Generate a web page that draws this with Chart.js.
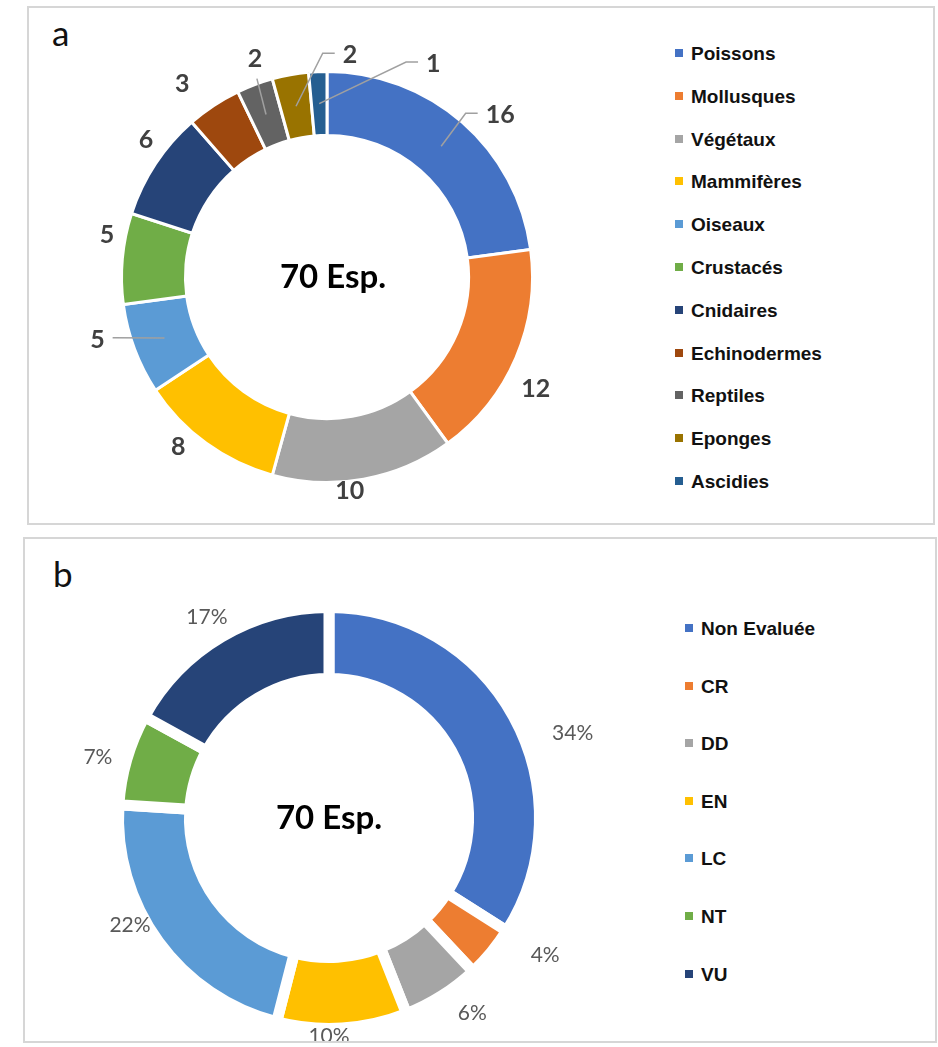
<!DOCTYPE html>
<html>
<head>
<meta charset="utf-8">
<script src="https://cdn.jsdelivr.net/npm/chart.js@4.4.1/dist/chart.umd.min.js"></script>
<style>
  html, body { margin: 0; padding: 0; background: #fff; }
  body { width: 938px; height: 1047px; position: relative; overflow: hidden; }
  .panel { position: absolute; border: 2px solid #d6d6d6; box-sizing: border-box; }
  .tag { position: absolute; font-family: Lato, "Open Sans", sans-serif; font-size: 35px; color: #111; line-height: 1; }
  canvas { position: absolute; }
  .legend { position: absolute; margin: 0; padding: 0; list-style: none;
            font-family: "Liberation Sans", Arial, sans-serif; font-weight: bold; font-size: 19px; color: #111; }
  .legend li { white-space: nowrap; }
  .legend .box { display: inline-block; width: 8px; height: 8px; margin-right: 8px; vertical-align: middle; position: relative; top: -2px; }
</style>
</head>
<body>
<div class="panel" style="left:27px; top:6px; width:908px; height:519px;"></div>
<div class="panel" style="left:23px; top:537px; width:914px; height:506px;"></div>
<div class="tag" style="left:52px; top:15px;">a</div>
<div class="tag" style="left:53px; top:556px;">b</div>

<div style="position:absolute; left:27px; top:6px; width:630px; height:518px;"><canvas id="chartA"></canvas></div>
<div style="position:absolute; left:23px; top:537px; width:630px; height:504px;"><canvas id="chartB"></canvas></div>

<ul class="legend" id="legendA" style="left:675px; top:33px;"></ul>
<ul class="legend" id="legendB" style="left:685px; top:600px;"></ul>

<script>
// Panneau a : nombre d'especes par groupe
const groupes = ['Poissons', 'Mollusques', 'Végétaux', 'Mammifères', 'Oiseaux', 'Crustacés',
                 'Cnidaires', 'Echinodermes', 'Reptiles', 'Eponges', 'Ascidies'];
const nbEspeces = [16, 12, 10, 8, 5, 5, 6, 3, 2, 2, 1];

// Panneau b : statut UICN (en %)
const statuts = ['Non Evaluée', 'CR', 'DD', 'EN', 'LC', 'NT', 'VU'];
const pctStatut = [34, 4, 6, 10, 22, 7, 17];

const totalLabel = '70 Esp.';

// couleurs (palette Office)
const couleursA = ['#4472C4', '#ED7D31', '#A5A5A5', '#FFC000', '#5B9BD5', '#70AD47',
                   '#264478', '#9E480E', '#636363', '#997300', '#255E91'];
const couleursB = ['#4472C4', '#ED7D31', '#A5A5A5', '#FFC000', '#5B9BD5', '#70AD47', '#264478'];

// placement des etiquettes : [decalage angulaire en degres, distance au centre]
const placeA = [[5.8, 237], [5.1, 237], [4.2, 215], [5.2, 226], [5.3, 238], [5.7, 224],
                [3.7, 227], [-3.5, 241], [2.3, 230], [16.2, 223], [29.1, 238]];
const leaderA = ['knee', null, null, null, 'left', null, null, null, 'below', 'knee', 'knee'];
const placeB = [[9.6, 258], [-7.2, 256], [-3.9, 242], [3.6, 218], [7.7, 226], [-1.4, 239], [-0.7, 235]];

// Etiquettes autour de l'anneau
const sliceLabels = {
  id: 'sliceLabels',
  afterDatasetsDraw(chart, args, opts) {
    const ctx = chart.ctx;
    const meta = chart.getDatasetMeta(0);
    const values = chart.data.datasets[0].data;
    ctx.save();
    ctx.font = opts.font;
    ctx.fillStyle = opts.color;
    ctx.textAlign = 'center';
    ctx.textBaseline = 'middle';
    meta.data.forEach((arc, i) => {
      const p = arc.getProps(['x', 'y', 'startAngle', 'endAngle'], true);
      const a = (p.startAngle + p.endAngle) / 2 + opts.place[i][0] * Math.PI / 180;
      const d = opts.place[i][1];
      const lx = p.x + Math.cos(a) * d;
      const ly = p.y + Math.sin(a) * d;
      const txt = opts.format(values[i]);
      const w = ctx.measureText(txt).width;
      const kind = opts.leaders ? opts.leaders[i] : null;
      if (kind) {
        const c = arc.tooltipPosition(true);
        ctx.beginPath();
        ctx.strokeStyle = '#a0a0a0';
        ctx.lineWidth = 1.5;
        ctx.moveTo(c.x, c.y);
        if (kind === 'knee') {
          const ex = lx - w / 2 - 8;
          ctx.lineTo(ex - 12, ly - 2);
          ctx.lineTo(ex, ly - 2);
        } else if (kind === 'below') {
          ctx.lineTo(lx + 2, ly + 20);
        } else if (kind === 'left') {
          ctx.lineTo(lx + w / 2 + 8, ly - 2);
        }
        ctx.stroke();
      }
      ctx.fillText(txt, lx, ly);
    });
    ctx.restore();
  },
  afterDraw(chart, args, opts) {
    const arc = chart.getDatasetMeta(0).data[0];
    const ctx = chart.ctx;
    ctx.save();
    ctx.font = 'bold 33px Lato, "Open Sans", sans-serif';
    ctx.fillStyle = '#000';
    ctx.textAlign = 'center';
    ctx.textBaseline = 'middle';
    ctx.fillText(opts.center, arc.x + opts.centerDx, arc.y);
    ctx.restore();
  }
};

function makeDonut(id, labels, values, colors, opt) {
  return new Chart(document.getElementById(id), {
    type: 'doughnut',
    data: {
      labels: labels,
      datasets: [{
        data: values,
        backgroundColor: colors,
        borderColor: '#ffffff',
        borderWidth: opt.border,
      }],
    },
    options: {
      responsive: true,
      maintainAspectRatio: false,
      animation: false,
      events: [],
      radius: opt.radius,
      cutout: opt.cutout,
      layout: { padding: opt.padding },
      plugins: {
        legend: { display: false },
        tooltip: { enabled: false },
        sliceLabels: {
          font: opt.font,
          color: opt.color,
          place: opt.place,
          leaders: opt.leaders,
          format: opt.format,
          center: totalLabel,
          centerDx: opt.centerDx,
        },
      },
    },
    plugins: [sliceLabels],
  });
}

makeDonut('chartA', groupes, nbEspeces, couleursA, {
  border: 3, radius: 205.5, cutout: '68.9%',
  padding: { left: 50, right: 80, top: 31, bottom: 7 },
  font: 'bold 25px Lato, "Open Sans", sans-serif', color: '#404040',
  place: placeA, leaders: leaderA, format: v => String(v), centerDx: 6,
});

makeDonut('chartB', statuts, pctStatut, couleursB, {
  border: 11, radius: 210.5, cutout: '66.3%',
  padding: { left: 56, right: 74, top: 61, bottom: 3 },
  font: '21px Lato, "Open Sans", sans-serif', color: '#595959',
  place: placeB, leaders: null, format: v => v + '%', centerDx: 0,
});

// Legendes
function buildLegend(id, labels, colors, spacing) {
  const ul = document.getElementById(id);
  labels.forEach((lab, i) => {
    const li = document.createElement('li');
    li.style.height = spacing + 'px';
    li.style.lineHeight = spacing + 'px';
    const box = document.createElement('span');
    box.className = 'box';
    box.style.background = colors[i];
    li.appendChild(box);
    li.appendChild(document.createTextNode(lab));
    ul.appendChild(li);
  });
}
buildLegend('legendA', groupes, couleursA, 42.8);
buildLegend('legendB', statuts, couleursB, 57.6);
</script>
</body>
</html>
